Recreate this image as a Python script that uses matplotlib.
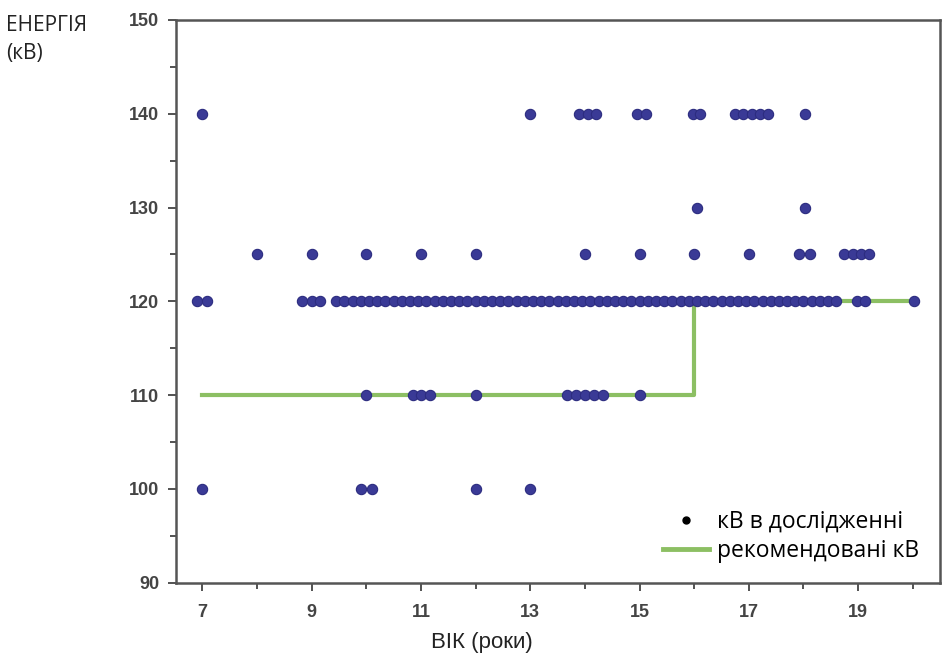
import matplotlib.pyplot as plt
from matplotlib.ticker import MultipleLocator
from matplotlib.lines import Line2D

# measured points: age (years) and energy (kV)
age_140 = [7.0, 13.0, 13.9, 14.05, 14.2, 14.95, 15.12, 15.97, 16.1,
           16.74, 16.89, 17.05, 17.2, 17.35, 18.02]
age_130 = [16.05, 18.02]
age_125 = [8.0, 9.0, 10.0, 11.0, 12.0, 14.0, 15.0, 16.0, 17.0,
           17.92, 18.12, 18.75, 18.9, 19.05, 19.2]
age_120 = [6.9, 7.08, 8.83, 9.0, 9.15,
           9.45, 9.6, 9.75, 9.9, 10.05, 10.2, 10.35, 10.5, 10.65, 10.8,
           10.95, 11.1, 11.25, 11.4, 11.55, 11.7, 11.85, 12.0, 12.15, 12.3,
           12.45, 12.6, 12.75, 12.9, 13.05, 13.2, 13.35, 13.5, 13.65, 13.8,
           13.95, 14.1, 14.25, 14.4, 14.55, 14.7, 14.85, 15.0, 15.15, 15.3,
           15.45, 15.6, 15.75, 15.9, 16.05, 16.2, 16.35, 16.5, 16.65, 16.8,
           16.95, 17.1, 17.25, 17.4, 17.55, 17.7, 17.85, 18.0, 18.15, 18.3,
           18.45, 18.6, 18.97, 19.12, 20.03]
age_110 = [10.0, 10.85, 11.0, 11.17, 12.0, 13.67, 13.84, 14.0, 14.17,
           14.34, 15.0]
age_100 = [7.0, 9.9, 10.1, 12.0, 13.0]

# recommended kV (step line)
rec_age = [7, 16, 16, 20]
rec_kv = [110, 110, 120, 120]

xticks = [7, 9, 11, 13, 15, 17, 19]
yticks = [90, 100, 110, 120, 130, 140, 150]

ages = age_140 + age_130 + age_125 + age_120 + age_110 + age_100
kvs = ([140] * len(age_140) + [130] * len(age_130) + [125] * len(age_125)
       + [120] * len(age_120) + [110] * len(age_110) + [100] * len(age_100))

fig = plt.figure(figsize=(9.42, 6.66), dpi=100)
ax = fig.add_axes([0.187, 0.125, 0.811, 0.845])

ax.plot(rec_age, rec_kv, color='#8cbf63', lw=3, zorder=1)
ax.scatter(ages, kvs, s=55, color='#3a3a96', edgecolors='#2c2c80',
           linewidths=0.8, zorder=2)

ax.set_xlim(6.52, 20.5)
ax.set_ylim(90, 150)
ax.set_xticks(xticks)
ax.set_yticks(yticks)
ax.xaxis.set_minor_locator(MultipleLocator(1))
ax.yaxis.set_minor_locator(MultipleLocator(5))

tick_font = dict(family=['Liberation Sans Narrow', 'Liberation Sans'],
                 size=13, weight='bold', color='#444444')
ax.set_xticklabels([str(v) for v in xticks], **tick_font)
ax.set_yticklabels([str(v) for v in yticks], **tick_font)

ax.tick_params(axis='both', which='major', direction='out', length=6,
               width=1.3, color='#444444', pad=6)
ax.tick_params(axis='both', which='minor', direction='out', length=4,
               width=1.3, color='#444444')
ax.tick_params(axis='x', which='major', pad=9)

for sp in ax.spines.values():
    sp.set_color('#555555')
    sp.set_linewidth(1.8)

handles = [Line2D([], [], marker='o', ls='none', color='black', markersize=5),
           Line2D([], [], color='#8cbf63', lw=3.5)]
ax.legend(handles, ['кВ в дослідженні', 'рекомендовані кВ'],
          loc='lower right', bbox_to_anchor=(0.998, 0.0), frameon=False,
          prop={'family': 'Open Sans', 'size': 16.5}, handlelength=2.0,
          handletextpad=0.35, labelspacing=0.25, borderaxespad=0.45)

fig.text(0.006, 0.978, 'ЕНЕРГІЯ\n(кВ)', ha='left', va='top',
         family='Open Sans', fontsize=15, color='#222222', linespacing=1.45)
fig.text(0.512, 0.02, 'ВІК (роки)', ha='center', va='bottom',
         family=['Liberation Sans Narrow', 'Liberation Sans'], fontsize=16,
         color='#222222')

fig.savefig('out.png', dpi=100)
